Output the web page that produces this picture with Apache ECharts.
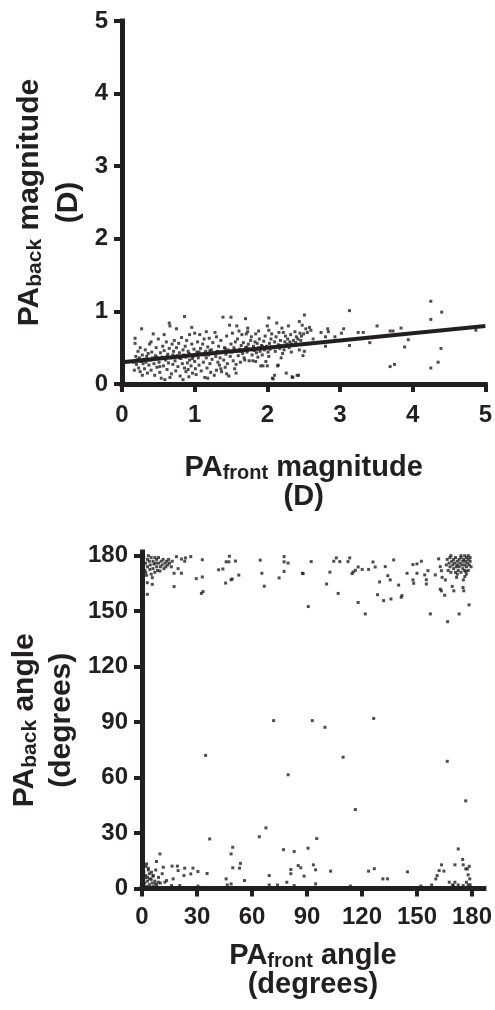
<!DOCTYPE html>
<html>
  <head>
    <meta charset="utf-8" />
    <title>PA front / back</title>
    <style>
      html,
      body {
        margin: 0;
        padding: 0;
        background: #fff;
      }
      #chart-container {
        width: 495px;
        height: 1010px;
      }
    </style>
    <script src="https://cdn.jsdelivr.net/npm/echarts@6/dist/echarts.min.js"></script>
  </head>
  <body>
    <div id="chart-container"></div>

    <script>
      // ---- top plot: magnitude (D) ----
      var magTicks = [0, 1, 2, 3, 4, 5];
      var magPoints = [
        [0.16, 0.30], [0.17, 0.19], [0.18, 0.56], [0.18, 0.63], [0.19, 0.38], [0.20, 0.27], [0.21, 0.33],
        [0.22, 0.45], [0.23, 0.22], [0.24, 0.36], [0.25, 0.17], [0.25, 0.50], [0.26, 0.31], [0.27, 0.76],
        [0.28, 0.40], [0.29, 0.28], [0.30, 0.34], [0.31, 0.21], [0.32, 0.47], [0.33, 0.30], [0.34, 0.38],
        [0.35, 0.15], [0.36, 0.42], [0.37, 0.26], [0.38, 0.55], [0.39, 0.33], [0.40, 0.19], [0.41, 0.44],
        [0.42, 0.36], [0.43, 0.69], [0.44, 0.28], [0.45, 0.12], [0.46, 0.39], [0.47, 0.50], [0.48, 0.23],
        [0.49, 0.35], [0.50, 0.62], [0.51, 0.30], [0.52, 0.16], [0.53, 0.43], [0.54, 0.08], [0.55, 0.37],
        [0.56, 0.52], [0.57, 0.25], [0.58, 0.46], [0.59, 0.06], [0.60, 0.33], [0.61, 0.58], [0.62, 0.20],
        [0.63, 0.41], [0.64, 0.29], [0.65, 0.84], [0.65, 0.49], [0.66, 0.80], [0.67, 0.36], [0.68, 0.14],
        [0.69, 0.55], [0.70, 0.27], [0.71, 0.45], [0.72, 0.60], [0.73, 0.32], [0.74, 0.18], [0.75, 0.76],
        [0.75, 0.50], [0.76, 0.39], [0.77, 0.24], [0.78, 0.56], [0.79, 0.43], [0.80, 0.11], [0.81, 0.35],
        [0.82, 0.64], [0.83, 0.28], [0.84, 0.06], [0.84, 0.47], [0.85, 0.40], [0.86, 0.93], [0.86, 0.22],
        [0.87, 0.52], [0.88, 0.17], [0.88, 0.37], [0.89, 0.60], [0.90, 0.29], [0.91, 0.45], [0.92, 0.10],
        [0.93, 0.33], [0.93, 0.68], [0.94, 0.40], [0.95, 0.25], [0.96, 0.55], [0.97, 0.15], [0.98, 0.38],
        [0.99, 0.48], [1.00, 0.70], [1.00, 0.31], [1.01, 0.21], [1.02, 0.13], [1.03, 0.44], [1.04, 0.58],
        [1.05, 0.36], [1.06, 0.26], [1.07, 0.68], [1.08, 0.49], [1.09, 0.18], [1.10, 0.41], [1.11, 0.55],
        [1.12, 0.30], [1.13, 0.62], [1.14, 0.09], [1.15, 0.45], [1.16, 0.36], [1.17, 0.22], [1.18, 0.51],
        [1.19, 0.40], [1.20, 0.63], [1.21, 0.28], [1.22, 0.16], [1.23, 0.47], [1.24, 0.34], [1.25, 0.57],
        [1.26, 0.42], [1.27, 0.12], [1.28, 0.71], [1.29, 0.38], [1.30, 0.19], [1.30, 0.65], [1.31, 0.45],
        [1.32, 0.30], [1.33, 0.52], [1.34, 0.26], [1.35, 0.36], [1.36, 0.60], [1.37, 0.17], [1.38, 0.44],
        [1.39, 0.92], [1.40, 0.33], [1.41, 0.50], [1.42, 0.23], [1.43, 0.41], [1.44, 0.66], [1.45, 0.28],
        [1.46, 0.47], [1.47, 0.11], [1.48, 0.81], [1.49, 0.38], [1.50, 0.92], [1.50, 0.55], [1.51, 0.44],
        [1.52, 0.70], [1.53, 0.32], [1.54, 0.50], [1.55, 0.21], [1.56, 0.58], [1.57, 0.27], [1.57, 0.15],
        [1.58, 0.45], [1.59, 0.62], [1.60, 0.39], [1.61, 0.73], [1.62, 0.48], [1.63, 0.30], [1.64, 0.53],
        [1.65, 0.68], [1.66, 0.42], [1.67, 0.57], [1.68, 0.36], [1.69, 0.33], [1.70, 0.90], [1.70, 0.50],
        [1.71, 0.69], [1.72, 0.44], [1.73, 0.72], [1.73, 0.77], [1.74, 0.55], [1.75, 0.32], [1.76, 0.48],
        [1.77, 0.60], [1.78, 0.65], [1.79, 0.40], [1.80, 0.32], [1.81, 0.52], [1.82, 0.46], [1.83, 0.58],
        [1.84, 0.69], [1.84, 0.31], [1.85, 0.43], [1.86, 0.56], [1.87, 0.37], [1.88, 0.50], [1.89, 0.62],
        [1.90, 0.45], [1.91, 0.25], [1.92, 0.53], [1.93, 0.40], [1.94, 0.25], [1.95, 0.59], [1.96, 0.47],
        [1.97, 0.66], [1.98, 0.31], [1.99, 0.52], [2.00, 0.80], [2.00, 0.25], [2.01, 0.44], [2.02, 0.91],
        [2.02, 0.74], [2.02, 0.38], [2.03, 0.56], [2.04, 0.48], [2.05, 0.62], [2.06, 0.69], [2.07, 0.08],
        [2.08, 0.07], [2.09, 0.50], [2.10, 0.12], [2.10, 0.58], [2.11, 0.45], [2.12, 0.65], [2.13, 0.84],
        [2.14, 0.25], [2.15, 0.26], [2.15, 0.54], [2.16, 0.71], [2.17, 0.49], [2.18, 0.60], [2.19, 0.36],
        [2.20, 0.52], [2.21, 0.42], [2.22, 0.71], [2.23, 0.47], [2.24, 0.58], [2.25, 0.66], [2.26, 0.15],
        [2.27, 0.55], [2.28, 0.62], [2.29, 0.80], [2.30, 0.50], [2.31, 0.58], [2.32, 0.68], [2.33, 0.44],
        [2.34, 0.10], [2.35, 0.09], [2.36, 0.60], [2.37, 0.53], [2.38, 0.72], [2.39, 0.57], [2.40, 0.65],
        [2.41, 0.12], [2.42, 0.62], [2.43, 0.12], [2.44, 0.86], [2.44, 0.47], [2.45, 0.70], [2.46, 0.60],
        [2.47, 0.66], [2.48, 0.81], [2.49, 0.39], [2.50, 0.69], [2.51, 0.95], [2.51, 0.45], [2.53, 0.76],
        [2.55, 0.71], [2.58, 0.78], [2.60, 0.74], [2.63, 0.62], [2.74, 0.71], [2.80, 0.65], [2.80, 0.52],
        [2.83, 0.76], [2.84, 0.72], [2.93, 0.65], [3.02, 0.70], [3.05, 0.76], [3.13, 1.01], [3.13, 0.53],
        [3.25, 0.71], [3.32, 0.71], [3.41, 0.57], [3.51, 0.80], [3.69, 0.73], [3.73, 0.73], [3.69, 0.24],
        [3.75, 0.27], [3.84, 0.77], [3.89, 0.51], [3.94, 0.61], [4.25, 1.14], [4.25, 0.89], [4.40, 0.99],
        [4.39, 0.49], [4.35, 0.30], [4.25, 0.22], [4.87, 0.74],
        // extra points in the dense band near the fit
        [0.22, 0.33], [0.35, 0.34], [0.48, 0.37], [0.62, 0.38], [0.70, 0.40], [0.79, 0.36], [0.92, 0.42],
        [0.97, 0.35], [1.06, 0.44], [1.13, 0.40], [1.21, 0.46], [1.34, 0.44], [1.42, 0.49], [1.55, 0.47],
        [1.63, 0.45], [1.72, 0.51], [1.81, 0.49], [1.93, 0.52], [2.05, 0.51], [2.18, 0.53], [2.33, 0.55],
        [0.28, 0.12], [0.52, 0.24], [0.66, 0.09], [0.91, 0.20], [1.18, 0.08], [1.36, 0.21], [1.44, 0.14],
        [0.40, 0.58], [0.58, 0.68], [0.96, 0.78], [1.16, 0.72], [1.58, 0.80], [1.88, 0.73], [2.20, 0.77]
      ];
      // linear fit drawn across the plot
      var fitLine = [[0, 0.3], [5, 0.8]];

      // ---- bottom plot: angle (degrees) ----
      var angleTicks = [0, 30, 60, 90, 120, 150, 180];
      var anglePoints = [
        // upper band, left
        [0.5, 178], [1, 179], [1, 175], [1.5, 172], [2, 176], [2, 171], [2.5, 169.4], [2.9, 159.1],
        [2.9, 165.4], [3, 178], [3, 174], [3.5, 180], [4, 177], [4.3, 172.6], [4.5, 175], [5, 179],
        [5, 170], [5.6, 168.1], [5.6, 164.5], [6, 177], [6, 173], [6.5, 175.5], [7, 179], [7, 171],
        [7.5, 176], [8, 174], [8, 178], [8.5, 172], [9, 176], [9, 179], [9.8, 171.7], [10, 174],
        [10.5, 177], [11, 175], [11.5, 178], [12, 173], [12.5, 176], [13, 174], [13.5, 177], [14, 175],
        [14.5, 178], [15, 176], [16, 174], [16.5, 177], [17.5, 170.5], [17.5, 163.3], [18.8, 179.5],
        [19.7, 173], [21.5, 178.2], [21.5, 170.5], [23.3, 177], [23.7, 178.8], [26.6, 179.5], [29.6, 167.6],
        [32.9, 168.5], [32.9, 177.8], [33.3, 160.6], [32.4, 159.6], [41.8, 172.4], [44.1, 172.8],
        [45.6, 165.2], [45.9, 176.7], [47.4, 176.7], [47.7, 179.7], [48.6, 167], [49.2, 167.4], [51, 177.1],
        [52.8, 169.5], [64.5, 177.6], [65.4, 170.5], [66.7, 163.5], [74.8, 168], [77.5, 179.5], [77.5, 176.7],
        [77.5, 171.5], [79.7, 176], [87.5, 170.5], [87.9, 170.3], [92.3, 176.8], [90.7, 152.5],
        // upper band, middle and right
        [100.7, 164.7], [102.5, 171.1], [104.6, 177], [106, 178.8], [107.9, 176.8], [112.4, 176.8],
        [113.3, 178.8], [107, 159.6], [114.6, 170.3], [115.2, 171.2], [116.4, 172.1], [117.9, 173.9],
        [120.1, 172.6], [117.9, 154.7], [121.8, 148.5], [123.6, 172.6], [126, 176.6], [127.2, 173.9],
        [128.5, 158.9], [129.6, 165.8], [131.8, 155.7], [132.7, 174.1], [134.1, 169.2], [135.4, 166.9],
        [135.8, 156.6], [137.3, 177.7], [140, 164.1], [141.8, 158.4], [141.4, 157.5], [144.6, 170.5],
        [147.8, 175.2], [150, 175.6], [147.8, 166.9], [148.2, 165.1], [150, 170.5], [152.4, 177],
        [154.2, 169.6], [155.1, 167], [155.1, 164.7], [156, 171.9], [157.3, 148.5], [160, 169.6],
        [161.8, 178.3], [162.7, 174.1], [163.3, 171.9], [162.7, 161.9], [163.3, 161], [165.1, 158.6],
        [163.7, 168.3], [165.5, 166.9], [166.7, 144.3], [173, 148.5], [178.4, 153.4], [175.1, 162.8],
        [175.5, 161], [170.1, 161], [169.2, 163.4], [171.6, 168.3], [175.3, 166.9], [176.1, 168.7],
        [176.7, 171.4], [172, 170], [176.9, 170],
        [166, 175], [166.5, 178], [167, 172], [167.5, 176], [168, 179], [168, 174], [168.5, 171], [169, 177],
        [169.5, 175], [170, 178], [170, 173], [170.5, 176], [171, 171], [171, 179], [171.5, 174], [172, 177],
        [172, 175], [172.5, 172], [173, 178], [173, 174], [173.5, 176], [174, 179], [174, 171], [174.5, 175],
        [175, 177], [175, 173], [175.5, 178], [176, 175], [176, 172], [176.5, 177], [177, 179], [177, 174],
        [177.5, 176], [178, 178], [178, 172], [178.5, 175], [179, 177], [179, 179], [179.5, 174], [168.5, 180],
        [174, 180], [176, 180], [178, 180],
        // scattered middle values
        [34.7, 72], [71.8, 90.8], [92.9, 90.8], [99.8, 87.2], [79.7, 61.5], [109.7, 71], [116.4, 42.7],
        [126.4, 92], [166.5, 68.8], [176.6, 47.4], [67.6, 32.8], [64, 28], [95.3, 27], [36.9, 26.8],
        // lower band
        [0.5, 2], [1, 5], [1, 9], [1.5, 3], [2, 7], [2, 12], [2.5, 1], [3, 4], [3, 6], [3.5, 10], [4, 2],
        [4, 8], [5, 5], [5.5, 3], [6, 1], [6, 7], [7, 4], [7.5, 10], [8, 2], [9, 6], [10, 3], [11, 8],
        [9.8, 18.7], [7.9, 14.6], [3.4, 11], [2.5, 13.3], [5.2, 8.8], [11.6, 11.5], [16.4, 12.1],
        [19.3, 12.1], [19.7, 9.7], [23.3, 11], [27.8, 11], [30.5, 9.2], [26.6, 7.9], [22.9, 7], [17, 5.2],
        [13.4, 4.3], [12.5, 3.4], [8.9, 3.4], [7.1, 2.5], [4.3, 5.2], [1.6, 6.1], [6.1, 6.7], [20.6, 1.6],
        [16.1, 1.6], [30.5, 1.3], [35.5, 8.1], [35.5, 0.6], [45.9, 5.2], [46.5, 1.9], [48.6, 2.5],
        [49.5, 22.3], [48.6, 18.7], [53.7, 13.6], [53.2, 11], [49.5, 11.2], [55.9, 4.3], [69.4, 7],
        [69.4, 1.9], [73.9, 1.9], [79, 3.4], [77.2, 21], [83, 20], [90.6, 21.8], [86.6, 11.2], [93.5, 12.8],
        [94.7, 10.1], [81.2, 10.3], [81.2, 8], [85.2, 12.4], [88.4, 6.7], [83, 1.6], [94.7, 2.5],
        [102.9, 9.4], [113.7, 1.3], [123.6, 9.4], [126.7, 10.7], [131.4, 5.2], [133.9, 5.2], [144.8, 9],
        [152.1, 1.3], [158, 1.9], [160.3, 5.2], [161, 7], [162.1, 9.7], [163.4, 12.8], [164.7, 9.4],
        [167.6, 3.4], [169.4, 1.9], [170.7, 3.4], [172.5, 1.9], [175.2, 1.6], [177, 3.4], [177.9, 7.4],
        [178.8, 5.2], [172.5, 21.4], [174.9, 15.7], [170.7, 12.8], [175.2, 12.8], [176.6, 10.6],
        [177.9, 1.9], [169.8, 1.6], [177.5, 10.6], [178.5, 12], [179, 2]
      ];

      var ink = "#231f20";
      var fontName = "'Liberation Sans', Arial, sans-serif";

      // rich styles for titles with a subscript
      function titleRich(size, subSize, line2Height) {
        return {
          a: { fontSize: size, fontWeight: "bold", color: ink, fontFamily: fontName, lineHeight: size + 2 },
          s: { fontSize: subSize, fontWeight: "bold", color: ink, fontFamily: fontName, lineHeight: 10, verticalAlign: "bottom" },
          b: { fontSize: size, fontWeight: "bold", color: ink, fontFamily: fontName, lineHeight: line2Height }
        };
      }

      function tickLabel(margin, custom) {
        var l = {
          color: ink,
          fontSize: 24,
          fontWeight: "bold",
          fontFamily: fontName,
          margin: margin
        };
        if (custom) l.customValues = custom;
        return l;
      }

      function tickStyle(custom) {
        var t = { show: true, length: 8, lineStyle: { color: ink, width: 4 } };
        if (custom) t.customValues = custom;
        return t;
      }

      function axisBase(extra) {
        var base = {
          type: "value",
          splitLine: { show: false },
          axisLine: { show: true, lineStyle: { color: ink, width: 5, cap: "square" } },
          nameLocation: "middle"
        };
        return Object.assign(base, extra);
      }

      var myChart = echarts.init(document.getElementById("chart-container"), null, {
        renderer: "canvas"
      });

      var option = {
        animation: false,
        backgroundColor: "#fff",
        grid: [
          { left: 122, top: 21, width: 364, height: 363 },
          { left: 142, top: 552, width: 344, height: 336.5 }
        ],
        xAxis: [
          axisBase({
            gridIndex: 0,
            min: 0,
            max: 5,
            interval: 1,
            axisTick: tickStyle(),
            axisLabel: tickLabel(19),
            name: "{a|PA}{s|front}{a| magnitude}\n{b|(D)}",
            nameGap: 68,
            nameTextStyle: { rich: titleRich(29, 20, 27) }
          }),
          axisBase({
            gridIndex: 1,
            min: 0,
            max: 186.5,
            axisTick: tickStyle(angleTicks),
            axisLabel: tickLabel(17, angleTicks),
            name: "{a|PA}{s|front}{a| angle}\n{b|(degrees)}",
            nameGap: 52,
            nameTextStyle: { rich: titleRich(29, 20, 27) }
          })
        ],
        yAxis: [
          axisBase({
            gridIndex: 0,
            min: 0,
            max: 5,
            interval: 1,
            axisTick: tickStyle(),
            axisLabel: tickLabel(14),
            name: "{a|PA}{s|back}{a| magnitude}\n{b|(D)}",
            nameRotate: 90,
            nameGap: 30,
            nameTextStyle: { rich: titleRich(30, 21, 46) }
          }),
          axisBase({
            gridIndex: 1,
            min: 0,
            max: 182,
            axisTick: tickStyle(angleTicks),
            axisLabel: tickLabel(14, angleTicks),
            name: "{a|PA}{s|back}{a| angle}\n{b|(degrees)}",
            nameRotate: 90,
            nameGap: 58,
            nameTextStyle: { rich: titleRich(30, 21, 42) }
          })
        ],
        series: [
          {
            type: "scatter",
            xAxisIndex: 0,
            yAxisIndex: 0,
            data: magPoints,
            symbol: "rect",
            symbolSize: 3,
            itemStyle: { color: ink }
          },
          {
            type: "line",
            xAxisIndex: 0,
            yAxisIndex: 0,
            data: fitLine,
            showSymbol: false,
            lineStyle: { color: ink, width: 4 },
            z: 3
          },
          {
            type: "scatter",
            xAxisIndex: 1,
            yAxisIndex: 1,
            data: anglePoints,
            symbol: "rect",
            symbolSize: 3,
            itemStyle: { color: ink }
          }
        ]
      };

      myChart.setOption(option);
    </script>
  </body>
</html>
